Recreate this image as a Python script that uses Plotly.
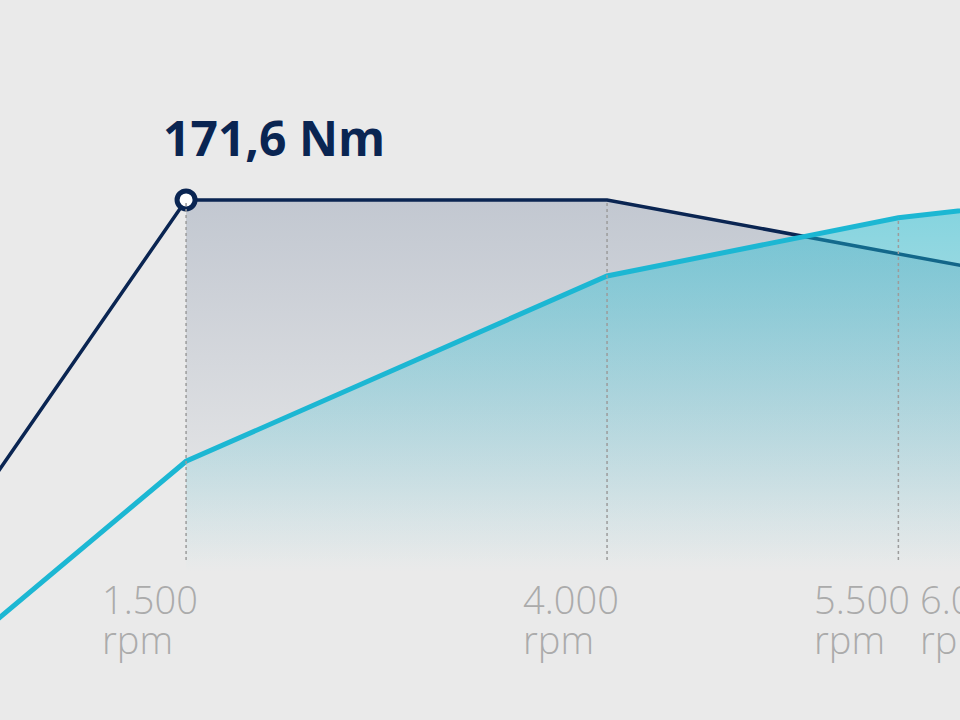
import plotly.graph_objects as go

# ---- data ----
node_x = [0, 1500, 4000, 5730, 6360]          # where each rpm node sits on the drawn axis
torque_nm = [0, 171.6, 171.6, 146, 137]
power_kw = [0, 40, 75, 86, 88.3]
label_x = [1500, 4000, 5730, 6360]
tick_labels = ["1.500", "4.000", "5.500", "6.000"]
unit_label = "rpm"
peak_label = "171,6 Nm"

# ---- styling ----
BG = "#eaeaea"
NAVY = "#0a2552"
CYAN = "#1cb7d3"
GRAY = "#ababab"
X_RANGE = [395, 6096]
T_RANGE = [-72.9, 265.6]
P_RANGE = [-8.88, 127.14]
H = 720

def to_paper(v, rng):
    return (v - rng[0]) / (rng[1] - rng[0])

fig = go.Figure()

fill_start = 1  # fills begin at the 1500 rpm node
# torque area
fig.add_trace(go.Scatter(
    x=node_x[fill_start:], y=torque_nm[fill_start:], mode="lines", line=dict(width=0),
    fill="tozeroy", yaxis="y",
    fillgradient=dict(type="vertical", start=0, stop=171.6,
                      colorscale=[[0, "rgba(12,43,94,0)"], [0.12, "rgba(12,43,94,0.015)"],
                                  [1, "rgba(12,43,94,0.18)"]]),
    hoverinfo="skip", showlegend=False))
# power area
fig.add_trace(go.Scatter(
    x=node_x[fill_start:], y=power_kw[fill_start:], mode="lines", line=dict(width=0),
    fill="tozeroy", yaxis="y2",
    fillgradient=dict(type="vertical", start=19, stop=88.3,
                      colorscale=[[0, "rgba(30,190,212,0)"], [1, "rgba(30,190,212,0.5)"]]),
    hoverinfo="skip", showlegend=False))

# dotted guide lines
bottom_paper = 1 - 560 / H
for xv in label_x:
    i = node_x.index(xv)
    top = max(to_paper(torque_nm[i], T_RANGE), to_paper(power_kw[i], P_RANGE))
    fig.add_shape(type="line", xref="x", yref="paper", x0=xv, x1=xv,
                  y0=bottom_paper, y1=top, line=dict(color="#9c9c9c", width=1.5, dash="dot"),
                  layer="above")

# lines (navy drawn over cyan)
fig.add_trace(go.Scatter(x=node_x, y=power_kw, mode="lines", yaxis="y2",
                         line=dict(color=CYAN, width=5), hoverinfo="skip", showlegend=False))
fig.add_trace(go.Scatter(x=node_x, y=torque_nm, mode="lines", yaxis="y",
                         line=dict(color=NAVY, width=3.5), hoverinfo="skip", showlegend=False))
# peak marker
fig.add_trace(go.Scatter(x=[node_x[1]], y=[torque_nm[1]], mode="markers", yaxis="y",
                         marker=dict(size=18, color="white", line=dict(color=NAVY, width=5)),
                         hoverinfo="skip", showlegend=False))

# tick labels (number + unit, left aligned)
for xv, lab in zip(label_x, tick_labels):
    xp = to_paper(xv, X_RANGE)
    fig.add_annotation(x=xp, xref="paper", y=1 - 571 / H, yref="paper", xanchor="left",
                       yanchor="top", xshift=-86, showarrow=False, text=lab,
                       font=dict(family="Open Sans", size=38, color=GRAY, weight=300))
    fig.add_annotation(x=xp, xref="paper", y=1 - 611 / H, yref="paper", xanchor="left",
                       yanchor="top", xshift=-86, showarrow=False, text=unit_label,
                       font=dict(family="Open Sans", size=38, color=GRAY, weight=300))

# peak label
fig.add_annotation(x=node_x[1], xref="x", y=1 - 172 / H, yref="paper", xanchor="left",
                   yanchor="bottom", xshift=-25, showarrow=False,
                   text=f"<b>{peak_label}</b>",
                   font=dict(family="Open Sans", size=48, color=NAVY))

fig.update_layout(
    width=960, height=720, margin=dict(l=0, r=0, t=0, b=0),
    paper_bgcolor=BG, plot_bgcolor=BG,
    xaxis=dict(range=X_RANGE, visible=False, fixedrange=True),
    yaxis=dict(range=T_RANGE, visible=False, fixedrange=True),
    yaxis2=dict(range=P_RANGE, visible=False, overlaying="y", fixedrange=True),
)

fig.write_html("out.html", config={"displayModeBar": False},
               post_script="document.body.style.margin='0';")
